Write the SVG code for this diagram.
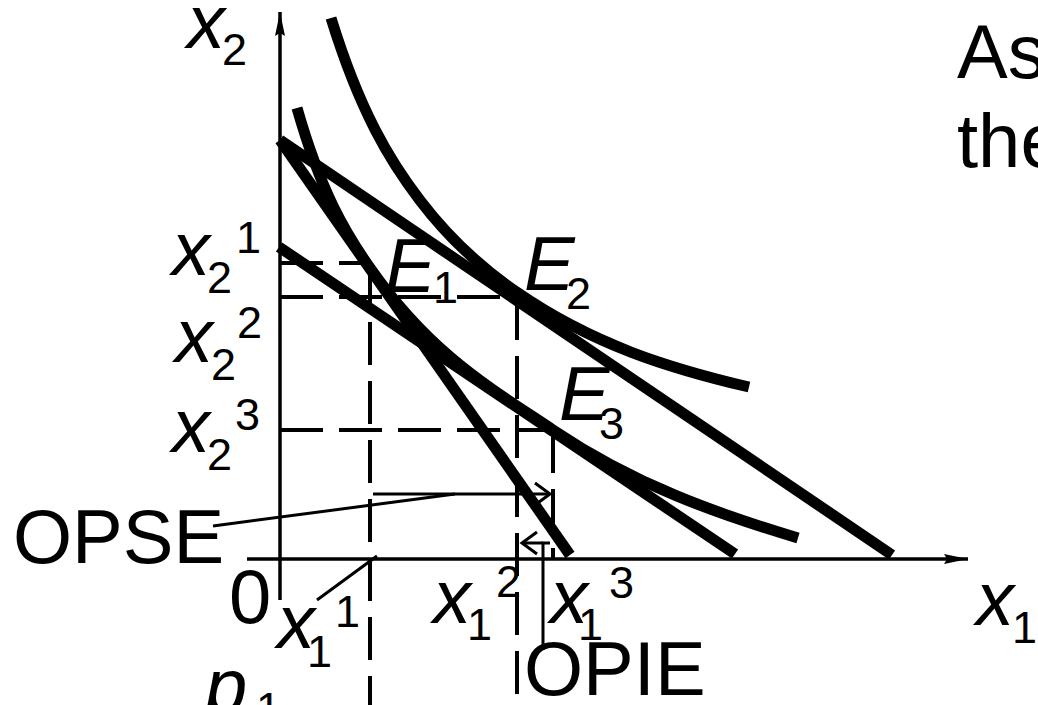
<svg xmlns="http://www.w3.org/2000/svg" width="1038" height="705" viewBox="0 0 1038 705">
<style>
.t{font-family:"Liberation Sans",Arial,sans-serif;font-size:76px;fill:#000}
.i{font-style:italic}
.s{font-size:45px}
.thick{fill:none;stroke:#000;stroke-width:11;stroke-linecap:butt}
.thin{fill:none;stroke:#000;stroke-width:3.5}
.dash{fill:none;stroke:#000;stroke-width:4;stroke-dasharray:43 16}
.ptr{fill:none;stroke:#000;stroke-width:3}
</style>
<defs>
<marker id="axarrow" markerUnits="userSpaceOnUse" viewBox="0 0 24 10" refX="24" refY="5" markerWidth="24" markerHeight="10" orient="auto">
<path d="M0,0 L24,5 L0,10 L3,5 Z" fill="#000"/>
</marker>
<marker id="open" markerUnits="userSpaceOnUse" viewBox="0 0 18 24" refX="16" refY="12" markerWidth="18" markerHeight="24" orient="auto" overflow="visible">
<path d="M1,1 L16,12 L1,23" fill="none" stroke="#000" stroke-width="3"/>
</marker>
</defs>
<rect width="1038" height="705" fill="#fff"/>

<g id="axes">
<line class="thin" x1="280" y1="600" x2="280" y2="12" marker-end="url(#axarrow)"/>
<line class="thin" x1="247" y1="559" x2="968" y2="559" marker-end="url(#axarrow)"/>
</g>

<g id="dashed-guides">
<line class="dash" x1="280" y1="263" x2="370" y2="263"/>
<line class="dash" x1="280" y1="297" x2="515" y2="297"/>
<line class="dash" x1="280" y1="430" x2="553" y2="430"/>
<line class="dash" x1="370" y1="263" x2="370" y2="705"/>
<line class="dash" x1="517" y1="297" x2="517" y2="705"/>
<line class="dash" x1="553" y1="430" x2="553" y2="560"/>
</g>

<g id="budget-lines">
<line id="budget-original" class="thick" x1="280" y1="140" x2="892" y2="555"/>
<line id="budget-steep" class="thick" x1="280" y1="140" x2="570" y2="555"/>
<line id="budget-compensated" class="thick" x1="279" y1="247" x2="735" y2="554"/>
</g>

<g id="indifference-curves">
<path id="U2" class="thick" d="M331,18 C360,112 390,161 420,200.3 C452.3,242.7 484.7,270.2 517,292.4 C593,344.7 669,368.2 749,387"/>
<path id="U1" class="thick" d="M297,108 C321.3,193.2 345.7,233.2 370,268 C431,355.3 492,389 553,430 C634.7,485 716.3,513.5 798,538"/>
</g>

<g id="connectors">
<line class="ptr" x1="373" y1="494" x2="550" y2="494" marker-end="url(#open)"/>
<line class="ptr" x1="213" y1="526" x2="455" y2="494"/>
<polyline class="ptr" points="543,650 543,543 550,543"/>
<line class="ptr" x1="543" y1="543" x2="522" y2="543" marker-end="url(#open)"/>
<line class="ptr" x1="317" y1="600" x2="377" y2="556"/>
</g>

<g id="labels">
<text class="t i" x="187" y="48">x</text><text class="t s" x="222" y="65">2</text>
<text class="t i" x="172" y="275">x</text><text class="t s" x="207" y="293">2</text><text class="t s" x="236" y="253">1</text>
<text class="t i" x="175" y="362">x</text><text class="t s" x="211" y="380">2</text><text class="t s" x="237" y="338">2</text>
<text class="t i" x="172" y="452">x</text><text class="t s" x="207" y="470">2</text><text class="t s" x="235" y="430">3</text>
<text class="t i" x="385" y="292">E</text><text class="t s" x="433" y="303">1</text>
<text class="t i" x="524" y="290">E</text><text class="t s" x="566" y="309">2</text>
<text class="t i" x="559" y="420">E</text><text class="t s" x="599" y="439">3</text>
<text class="t" x="229" y="623">0</text>
<text class="t i" x="277" y="648">x</text><text class="t s" x="307" y="667">1</text><text class="t s" x="335" y="627">1</text>
<text class="t i" x="433" y="623">x</text><text class="t s" x="467" y="640">1</text><text class="t s" x="496" y="597">2</text>
<text class="t i" x="550" y="623">x</text><text class="t s" x="578" y="640">1</text><text class="t s" x="609" y="598">3</text>
<text class="t i" x="976" y="625">x</text><text class="t s" x="1012" y="643">1</text>
<text class="t" x="13" y="563">OPSE</text>
<text class="t" x="524" y="695">OPIE</text>
<text class="t i" x="205" y="712">p</text><text class="t s" x="256" y="724">1</text>
<text class="t" x="957" y="78">As</text>
<text class="t" x="957" y="167">the</text>
</g>
</svg>
